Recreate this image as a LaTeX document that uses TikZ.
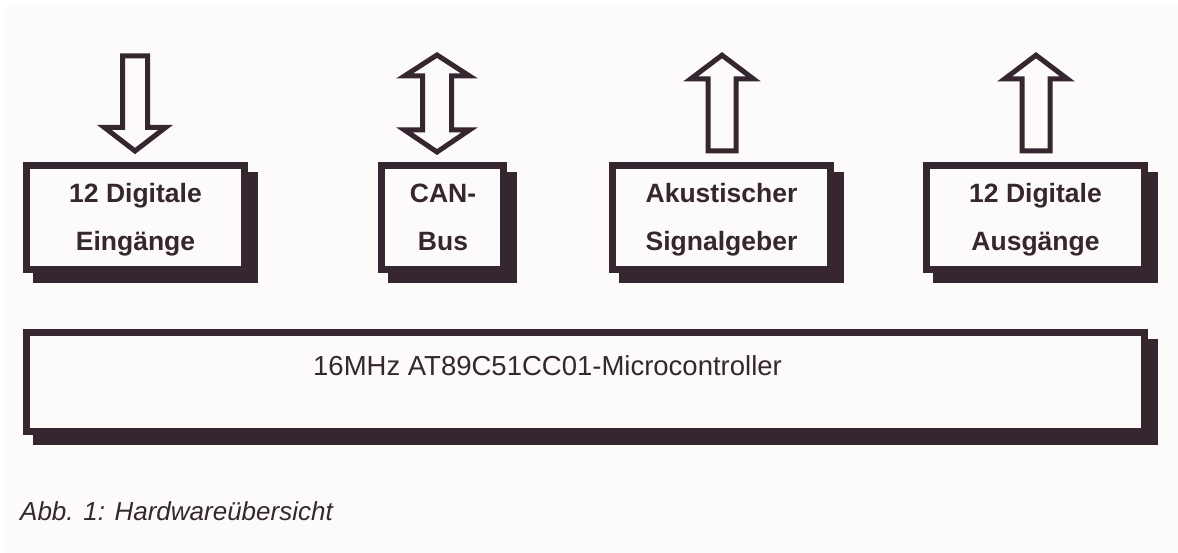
\documentclass[tikz,border=0pt]{standalone}
\usepackage{fontspec}
\setmainfont{Liberation Sans}
\definecolor{ink}{RGB}{53,38,48}
\definecolor{paper}{RGB}{252,251,249}
\pgfdeclarelayer{panel}
\pgfdeclarelayer{shadowlayer}
\pgfsetlayers{panel,shadowlayer,main}
\tikzset{
  boxnode/.style={draw=ink, fill=paper, line width=6.7pt, outer sep=0pt, inner sep=0pt, minimum height=104.3pt},
  smallbox/.style={boxnode, minimum width=218.3pt},
  boxlabel/.style={anchor=base, text=ink, inner sep=0pt, font=\fontsize{26.5}{30}\selectfont\bfseries},
  blockarrow/.style={draw=ink, fill=paper, line width=5pt, line join=miter},
  shadowfill/.style={fill=ink}
}
\begin{document}
\begin{tikzpicture}[x=1pt,y=-1pt]
\useasboundingbox (0,0) rectangle (1178,553);
\begin{pgfonlayer}{panel}
  \fill[white] (0,0) rectangle (1178,553);
  \fill[paper] (4,6) rectangle (1178,553);
\end{pgfonlayer}
% boxes
\node[smallbox] (b1) at (135.5,217.5) {};
\node[boxnode, minimum width=122.3pt] (b2) at (442.5,217.5) {};
\node[smallbox] (b3) at (721.5,217.5) {};
\node[smallbox] (b4) at (1035.5,217.5) {};
\node[boxnode, minimum width=1118.3pt, minimum height=99.3pt] (mc) at (585.5,382) {};
\begin{pgfonlayer}{shadowlayer}
  \fill[shadowfill] (33,172) rectangle (258,283);
  \fill[shadowfill] (388,172) rectangle (517,283);
  \fill[shadowfill] (619,172) rectangle (844,283);
  \fill[shadowfill] (933,172) rectangle (1158,283);
  \fill[shadowfill] (33,339) rectangle (1158,445);
\end{pgfonlayer}
% labels
\node[boxlabel] (t1a) at (135.5,203) {12 Digitale};
\node[boxlabel] (t1b) at (135.5,250.5) {Eingänge};
\node[boxlabel] (t2a) at (443,203) {CAN-};
\node[boxlabel] (t2b) at (443,250.5) {Bus};
\node[boxlabel] (t3a) at (721.5,203) {Akustischer};
\node[boxlabel] (t3b) at (721.5,250.5) {Signalgeber};
\node[boxlabel] (t4a) at (1035.5,203) {12 Digitale};
\node[boxlabel] (t4b) at (1035.5,250.5) {Ausgänge};
\node[anchor=base west, inner sep=0pt, text=ink, font=\fontsize{27.5}{32}\selectfont] (mct) at (313,375) {16MHz AT89C51CC01-Microcontroller};
\node[anchor=base west, inner sep=0pt, text=ink, font=\fontsize{26}{30}\selectfont\itshape] (cap) at (20,520) {Abb. 1: Hardwareübersicht};
% block arrows
\draw[blockarrow] (122.5,55.8) -- (147.5,55.8) -- (147.5,127.5) -- (165.5,127.5) -- (135,151) -- (104.5,127.5) -- (122.5,127.5) -- cycle;
\draw[blockarrow] (437,55) -- (469.5,76) -- (451.5,76) -- (451.5,130) -- (469.5,130) -- (437,152) -- (404.5,130) -- (422.5,130) -- (422.5,76) -- (404.5,76) -- cycle;
\draw[blockarrow] (722,55.2) -- (753.5,79) -- (736,79) -- (736,151) -- (708,151) -- (708,79) -- (690.5,79) -- cycle;
\draw[blockarrow] (1036,55.2) -- (1067.5,79) -- (1050,79) -- (1050,151) -- (1022,151) -- (1022,79) -- (1004.5,79) -- cycle;
\end{tikzpicture}
\end{document}
